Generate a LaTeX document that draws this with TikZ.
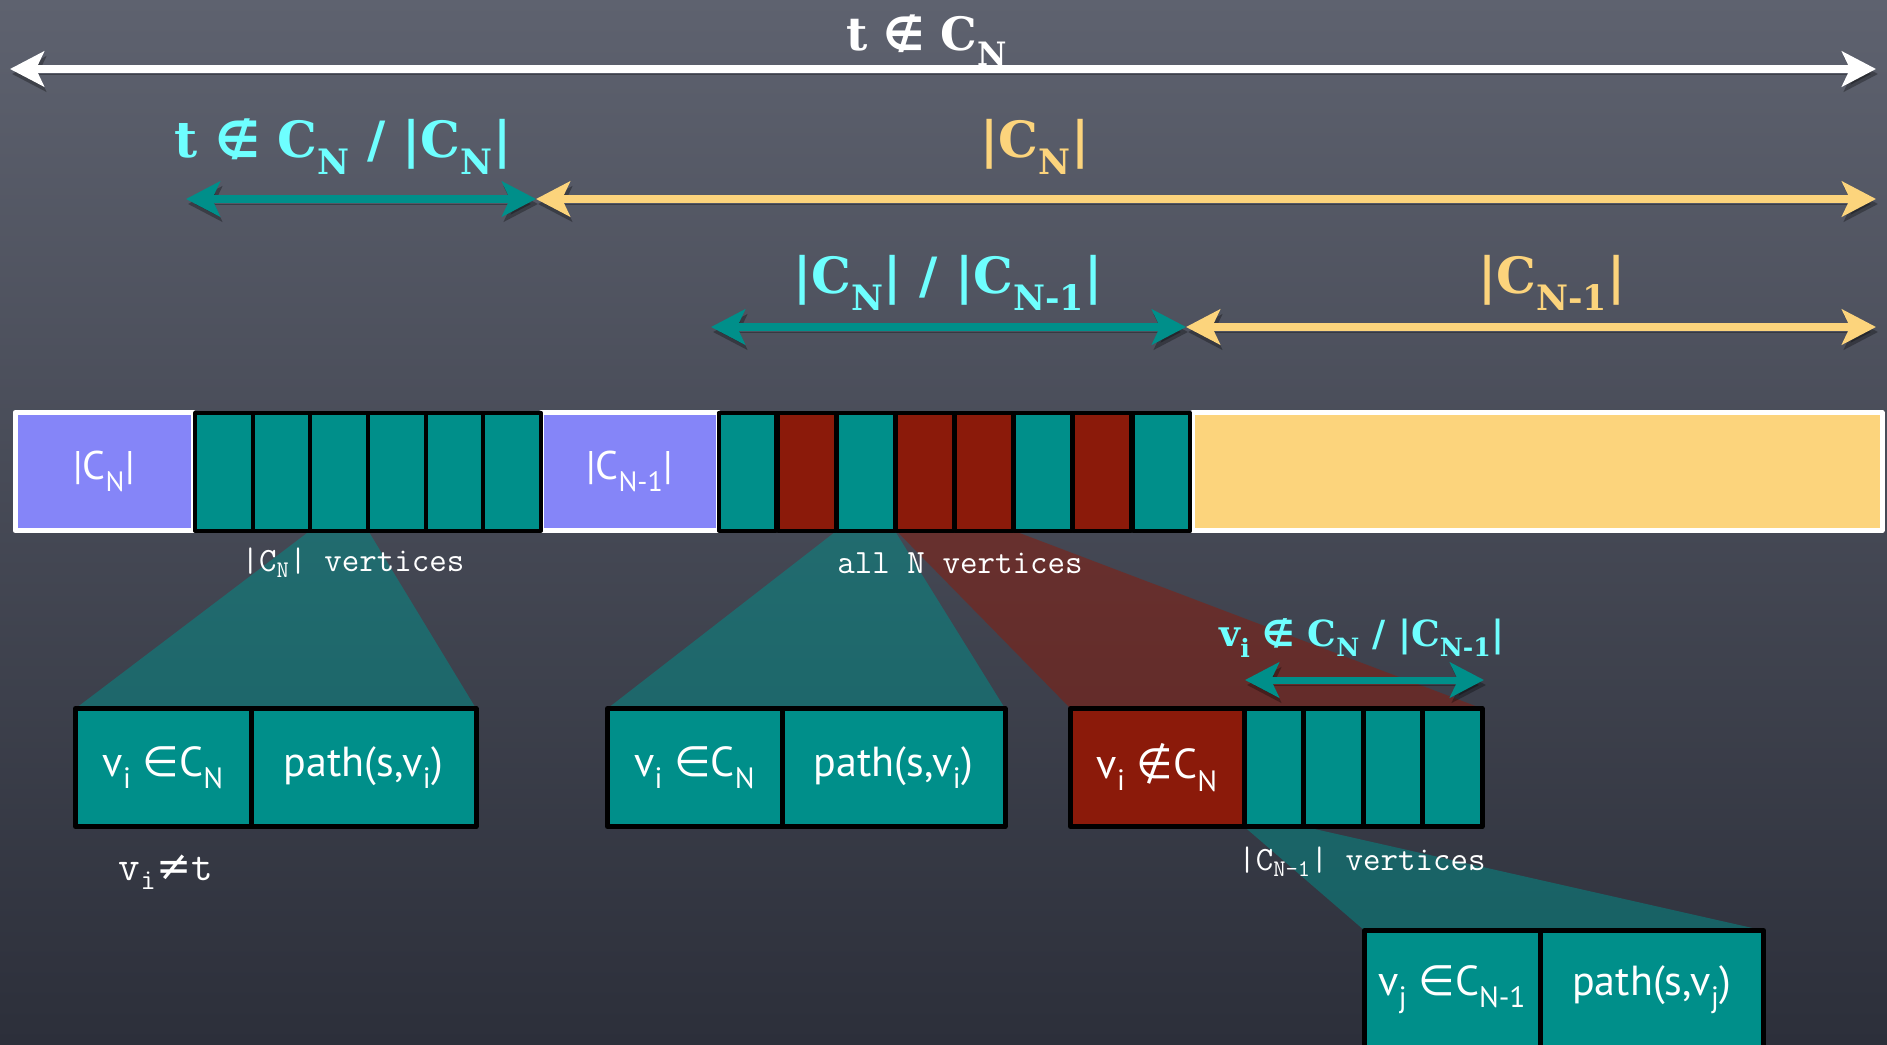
\documentclass[tikz,border=0pt]{standalone}
\usepackage{fontspec}
\newfontfamily\grassetto{DejaVu Serif}
\newfontfamily\gesso{PT Sans}
\newfontfamily\simboli{DejaVu Sans}
\usetikzlibrary{arrows.meta,positioning}

\definecolor{verde}{RGB}{0,143,138}
\definecolor{rosso}{RGB}{139,26,10}
\definecolor{lilla}{RGB}{133,133,248}
\definecolor{giallo}{RGB}{252,212,124}
\definecolor{ciano}{RGB}{110,255,255}
\definecolor{lavagnasu}{RGB}{94,98,111}
\definecolor{lavagnagiu}{RGB}{44,47,58}

\pgfdeclarelayer{sfondo}
\pgfdeclarelayer{ventagli}
\pgfsetlayers{sfondo,ventagli,main}

\begin{document}
\begin{tikzpicture}[x=1pt,y=-1pt,line join=round,
    freccia/.style={line width=8pt,>={Stealth[length=34pt,width=35pt,inset=8pt]},<->},
    ombra/.style={preaction={draw=black,opacity=0.3,transform canvas={shift={(2pt,-5pt)}}}},
    etichetta/.style={inner sep=0pt,font=\grassetto\bfseries\fontsize{50}{56}\selectfont},
    scritta/.style={inner sep=0pt,text=white,font=\ttfamily\fontsize{34}{40}\selectfont},
    blocco/.style={draw=white,line width=5pt,minimum height=118pt,inner sep=0pt,outer sep=0pt,
                   text=white,font=\gesso\fontsize{40}{46}\selectfont},
    cella/.style={draw=black,line width=4pt,fill=verde,minimum width=57.7pt,
                  minimum height=118pt,inner sep=0pt,outer sep=0pt},
    scatola/.style={draw=black,line width=5pt,fill=verde,minimum height=118pt,inner sep=0pt,
                    outer sep=0pt,text=white,font=\gesso\fontsize{42}{48}\selectfont},
    ventaglio/.style={fill=verde,fill opacity=0.5}]

  % sfondo a lavagna
  \useasboundingbox (0,0) rectangle (1887,1044);
  \clip (0,0) rectangle (1887,1044);
  \begin{pgfonlayer}{sfondo}
    \shade[top color=lavagnasu,bottom color=lavagnagiu] (0,0) rectangle (1887,1044);
  \end{pgfonlayer}

  % ---- frecce in alto ------------------------------------------------------
  \coordinate (w1) at (10,69);
  \coordinate (w2) at (1876,69);
  \coordinate (a1) at (186,199);
  \coordinate (a2) at (536,199);
  \coordinate (a3) at (1876,199);
  \coordinate (b1) at (711,327);
  \coordinate (b2) at (1186,327);
  \coordinate (b3) at (1876,327);

  \draw[freccia,ombra,white] (w1) -- (w2);
  \draw[freccia,ombra,verde] (a1) -- (a2);
  \draw[freccia,ombra,giallo] (a2) -- (a3);
  \draw[freccia,ombra,verde] (b1) -- (b2);
  \draw[freccia,ombra,giallo] (b2) -- (b3);

  \node[etichetta,text=white,font=\grassetto\bfseries\fontsize{46}{52}\selectfont]
        (titolo) at (927,40) {t {\simboli ∉} C\textsubscript{N}};
  \node[etichetta,text=ciano] (e1) at (343,147) {t {\simboli ∉} C\textsubscript{N} / |C\textsubscript{N}|};
  \node[etichetta,text=giallo] (e2) at (1035,147) {|C\textsubscript{N}|};
  \node[etichetta,text=ciano] (e3) at (948,283) {|C\textsubscript{N}| / |C\textsubscript{N-1}|};
  \node[etichetta,text=giallo] (e4) at (1552,283) {|C\textsubscript{N-1}|};

  % ---- la tabella ------------------------------------------------------------
  \node[blocco,fill=lilla,minimum width=178pt] (t1) at (104,471.5) {|C\textsubscript{N}|};
  \node[blocco,fill=lilla,minimum width=177pt] (t2) at (629.5,471.5) {|C\textsubscript{N-1}|};
  \node[blocco,fill=giallo,minimum width=690pt] (t3) at (1537,471.5) {};

  \node[cella] (c1) at (223.8,471.5) {};
  \node[cella] (c2) at (281.5,471.5) {};
  \node[cella] (c3) at (339.2,471.5) {};
  \node[cella] (c4) at (396.8,471.5) {};
  \node[cella] (c5) at (454.5,471.5) {};
  \node[cella] (c6) at (512.2,471.5) {};

  \node[cella] (d1) at (747.6,471.5) {};
  \node[cella,fill=rosso] (d2) at (806.7,471.5) {};
  \node[cella] (d3) at (865.8,471.5) {};
  \node[cella,fill=rosso] (d4) at (924.9,471.5) {};
  \node[cella,fill=rosso] (d5) at (984.1,471.5) {};
  \node[cella] (d6) at (1043.2,471.5) {};
  \node[cella,fill=rosso] (d7) at (1102.3,471.5) {};
  \node[cella] (d8) at (1161.4,471.5) {};

  \node[scritta] (s1) at (353,563) {|C\textsubscript{N}| vertices};
  \node[scritta] (s2) at (960,563) {all N vertices};

  % ---- i record in basso -----------------------------------------------------
  \node[scatola,minimum width=175.5pt] (r1a) at (163.25,767.5) {v\textsubscript{i} {\simboli ∈}C\textsubscript{N}};
  \node[scatola,minimum width=225pt,right=0pt of r1a] (r1b) {path(s,v\textsubscript{i})};

  \node[scatola,minimum width=174.5pt] (r2a) at (694.75,767.5) {v\textsubscript{i} {\simboli ∈}C\textsubscript{N}};
  \node[scatola,minimum width=223pt,right=0pt of r2a] (r2b) {path(s,v\textsubscript{i})};

  \node[scatola,fill=rosso,minimum width=173.5pt] (r3a) at (1157.25,767.5) {v\textsubscript{i} {\simboli ∉}C\textsubscript{N}};
  \node[scatola,minimum width=59.5pt,right=0pt of r3a] (r3b) {};
  \node[scatola,minimum width=59.5pt,right=0pt of r3b] (r3c) {};
  \node[scatola,minimum width=59.5pt,right=0pt of r3c] (r3d) {};
  \node[scatola,minimum width=59.5pt,right=0pt of r3d] (r3e) {};

  \node[scatola,minimum width=175.5pt] (r4a) at (1452.25,989.5) {v\textsubscript{j} {\simboli ∈}C\textsubscript{N-1}};
  \node[scatola,minimum width=223.5pt,right=0pt of r4a] (r4b) {path(s,v\textsubscript{j})};

  % ---- i ventagli che scendono dalle celle (sotto a tutto) -------------------
  \begin{pgfonlayer}{ventagli}
    \fill[ventaglio] (c3.south west) -- (c3.south east) -- (r1b.north east) -- (r1a.north west) -- cycle;
    \fill[ventaglio] (d3.south west) -- (d3.south east) -- (r2b.north east) -- (r2a.north west) -- cycle;
    \fill[ventaglio,fill=rosso] (d4.south west) -- (d5.south east) -- (r3e.north east) -- (r3a.north west) -- cycle;
    \fill[ventaglio] (r3b.south west) -- (r3b.south east) -- (r4b.north east) -- (r4a.north west) -- cycle;
  \end{pgfonlayer}

  % ---- freccia e scritte del record rosso -------------------------------------
  \coordinate (f1) at (1245,680);
  \coordinate (f2) at (1484,680);
  \draw[freccia,ombra,verde,line width=7pt] (f1) -- (f2);
  \node[etichetta,text=ciano,font=\grassetto\bfseries\fontsize{36}{42}\selectfont]
        (e5) at (1362,638) {v\textsubscript{i} {\simboli ∉} C\textsubscript{N} / |C\textsubscript{N-1}|};
  \node[scritta] (s3) at (1362,862) {|C\textsubscript{N-1}| vertices};
  \node[scritta,font=\ttfamily\fontsize{42}{48}\selectfont] (s4) at (166,872) {v\textsubscript{i}{\simboli ≠}t};

\end{tikzpicture}
\end{document}
